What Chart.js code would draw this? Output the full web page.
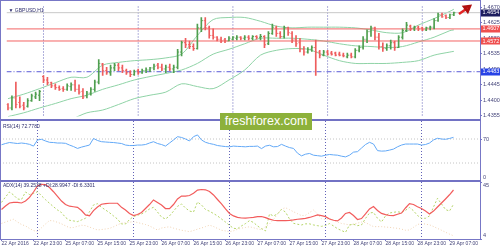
<!DOCTYPE html>
<html>
<head>
<meta charset="utf-8">
<title>GBPUSD H1</title>
<script src="https://cdn.jsdelivr.net/npm/chart.js@4.4.1/dist/chart.umd.min.js"></script>
<style>
  html, body { margin: 0; padding: 0; background: #fff; }
  #wrap { position: relative; width: 500px; height: 250px; overflow: hidden; background: #fff; }
  #wrap canvas { position: absolute; left: 0; }
  #frame { position: absolute; left: 0; top: 0; width: 481px; height: 240px; box-sizing: border-box; border: 1px solid #7777c6; pointer-events: none; }
  .sep { position: absolute; left: 0; width: 481px; height: 2px; background: #7272c4; }
  #brand { position: absolute; left: 220px; top: 113px; width: 92px; height: 17px; background: #8db13b; color: #fff;
           font: 12.5px/17px 'Liberation Sans', Arial, sans-serif; text-align: center; }
</style>
</head>
<body>
<div id="wrap">
  <canvas id="main" width="500" height="123" style="top:0;width:500px;height:123px"></canvas>
  <canvas id="rsi" width="500" height="60" style="top:121px;width:500px;height:60px"></canvas>
  <canvas id="adx" width="500" height="68" style="top:182px;width:500px;height:68px"></canvas>
  <div id="frame"></div>
  <div class="sep" style="top:119px"></div>
  <div class="sep" style="top:180px"></div>
  <div id="brand">freshforex.com</div>
</div>
<script>
// GBPUSD H1 bars, 22 Apr 14:00 .. 29 Apr 08:00
const opens = [
  1.4388, 1.4378, 1.4407, 1.4394, 1.4386, 1.4383, 1.4399, 1.4410, 1.4415, 1.4469,
  1.4459, 1.4451, 1.4442, 1.4437, 1.4434, 1.4432, 1.4440, 1.4445, 1.4432, 1.4426,
  1.4413, 1.4421, 1.4432, 1.4453, 1.4505, 1.4486, 1.4480, 1.4494, 1.4502, 1.4494,
  1.4486, 1.4480, 1.4475, 1.4486, 1.4480, 1.4486, 1.4488, 1.4494, 1.4502, 1.4496,
  1.4491, 1.4496, 1.4491, 1.4496, 1.4540, 1.4567, 1.4561, 1.4556, 1.4550, 1.4610,
  1.4631, 1.4610, 1.4588, 1.4583, 1.4577, 1.4575, 1.4572, 1.4577, 1.4580, 1.4583,
  1.4580, 1.4583, 1.4580, 1.4585, 1.4583, 1.4585, 1.4564, 1.4594, 1.4610, 1.4594,
  1.4585, 1.4610, 1.4594, 1.4577, 1.4567, 1.4548, 1.4540, 1.4548, 1.4553, 1.4540,
  1.4531, 1.4540, 1.4537, 1.4537, 1.4534, 1.4531, 1.4526, 1.4531, 1.4526, 1.4545,
  1.4553, 1.4577, 1.4599, 1.4610, 1.4583, 1.4556, 1.4550, 1.4558, 1.4567, 1.4553,
  1.4583, 1.4602, 1.4615, 1.4607, 1.4612, 1.4610, 1.4604, 1.4610, 1.4612, 1.4631,
  1.4648, 1.4645, 1.4640, 1.4648
];
const highs = [
  1.4391, 1.4413, 1.4453, 1.4410, 1.4394, 1.4405, 1.4418, 1.4424, 1.4429, 1.4472,
  1.4467, 1.4453, 1.4448, 1.4442, 1.4440, 1.4448, 1.4451, 1.4459, 1.4445, 1.4434,
  1.4426, 1.4437, 1.4459, 1.4518, 1.4507, 1.4496, 1.4502, 1.4507, 1.4507, 1.4502,
  1.4491, 1.4486, 1.4488, 1.4491, 1.4491, 1.4494, 1.4496, 1.4505, 1.4507, 1.4505,
  1.4502, 1.4505, 1.4502, 1.4548, 1.4572, 1.4580, 1.4572, 1.4564, 1.4621, 1.4640,
  1.4640, 1.4615, 1.4607, 1.4585, 1.4583, 1.4580, 1.4585, 1.4585, 1.4588, 1.4585,
  1.4588, 1.4588, 1.4588, 1.4588, 1.4591, 1.4588, 1.4599, 1.4621, 1.4615, 1.4599,
  1.4615, 1.4612, 1.4599, 1.4588, 1.4580, 1.4556, 1.4553, 1.4558, 1.4575, 1.4545,
  1.4545, 1.4545, 1.4542, 1.4540, 1.4540, 1.4537, 1.4537, 1.4537, 1.4550, 1.4558,
  1.4585, 1.4604, 1.4615, 1.4612, 1.4594, 1.4567, 1.4564, 1.4575, 1.4572, 1.4588,
  1.4607, 1.4626, 1.4618, 1.4615, 1.4615, 1.4612, 1.4612, 1.4615, 1.4637, 1.4653,
  1.4653, 1.4648, 1.4650, 1.4656
];
const lows = [
  1.4372, 1.4372, 1.4378, 1.4378, 1.4372, 1.4380, 1.4397, 1.4405, 1.4399, 1.4451,
  1.4445, 1.4437, 1.4432, 1.4429, 1.4426, 1.4429, 1.4429, 1.4426, 1.4418, 1.4405,
  1.4407, 1.4415, 1.4426, 1.4448, 1.4472, 1.4475, 1.4472, 1.4486, 1.4486, 1.4480,
  1.4475, 1.4469, 1.4472, 1.4475, 1.4478, 1.4480, 1.4483, 1.4488, 1.4491, 1.4486,
  1.4480, 1.4486, 1.4480, 1.4491, 1.4529, 1.4553, 1.4550, 1.4545, 1.4548, 1.4599,
  1.4604, 1.4580, 1.4577, 1.4572, 1.4567, 1.4567, 1.4572, 1.4575, 1.4575, 1.4575,
  1.4575, 1.4575, 1.4575, 1.4577, 1.4575, 1.4553, 1.4561, 1.4591, 1.4585, 1.4580,
  1.4580, 1.4588, 1.4567, 1.4556, 1.4540, 1.4531, 1.4537, 1.4542, 1.4472, 1.4523,
  1.4529, 1.4531, 1.4531, 1.4529, 1.4529, 1.4526, 1.4523, 1.4523, 1.4523, 1.4540,
  1.4548, 1.4567, 1.4585, 1.4575, 1.4548, 1.4542, 1.4545, 1.4548, 1.4545, 1.4553,
  1.4577, 1.4599, 1.4602, 1.4602, 1.4602, 1.4602, 1.4602, 1.4604, 1.4607, 1.4629,
  1.4640, 1.4637, 1.4637, 1.4645
];
const closes = [
  1.4378, 1.4407, 1.4388, 1.4383, 1.4378, 1.4399, 1.4413, 1.4418, 1.4426, 1.4459,
  1.4451, 1.4442, 1.4437, 1.4432, 1.4432, 1.4442, 1.4445, 1.4432, 1.4424, 1.4410,
  1.4421, 1.4432, 1.4453, 1.4507, 1.4486, 1.4480, 1.4494, 1.4502, 1.4494, 1.4486,
  1.4480, 1.4475, 1.4483, 1.4480, 1.4486, 1.4488, 1.4494, 1.4499, 1.4496, 1.4491,
  1.4496, 1.4491, 1.4496, 1.4540, 1.4567, 1.4561, 1.4556, 1.4550, 1.4610, 1.4631,
  1.4610, 1.4588, 1.4583, 1.4577, 1.4572, 1.4572, 1.4580, 1.4583, 1.4583, 1.4580,
  1.4583, 1.4580, 1.4585, 1.4583, 1.4585, 1.4561, 1.4594, 1.4612, 1.4594, 1.4585,
  1.4610, 1.4596, 1.4575, 1.4564, 1.4548, 1.4540, 1.4548, 1.4553, 1.4540, 1.4531,
  1.4540, 1.4534, 1.4534, 1.4531, 1.4531, 1.4529, 1.4531, 1.4526, 1.4545, 1.4553,
  1.4577, 1.4599, 1.4610, 1.4583, 1.4556, 1.4550, 1.4558, 1.4567, 1.4553, 1.4583,
  1.4602, 1.4618, 1.4607, 1.4612, 1.4607, 1.4604, 1.4610, 1.4612, 1.4631, 1.4648,
  1.4642, 1.4640, 1.4648, 1.4654
];

// Bollinger bands, read every 4th bar
const bbIdx = [0, 4, 8, 12, 16, 20, 24, 28, 32, 36, 40, 44, 48, 52, 56, 60, 64, 68, 72, 76,
               80, 84, 88, 92, 96, 100, 104, 108, 112, 113];
const bbUpper = [1.4405, 1.4418, 1.4434, 1.4451, 1.4467, 1.4467, 1.4502, 1.4510, 1.4515, 1.4518,
                 1.4523, 1.4534, 1.4588, 1.4634, 1.4640, 1.4640, 1.4629, 1.4615, 1.4610, 1.4612,
                 1.4612, 1.4612, 1.4610, 1.4604, 1.4596, 1.4596, 1.4618, 1.4637, 1.4658, 1.4664];
const bbMiddle = [1.4353, 1.4364, 1.4378, 1.4391, 1.4405, 1.4415, 1.4432, 1.4445, 1.4459, 1.4469,
                  1.4478, 1.4488, 1.4507, 1.4534, 1.4548, 1.4564, 1.4580, 1.4580, 1.4580, 1.4577,
                  1.4572, 1.4564, 1.4558, 1.4556, 1.4553, 1.4556, 1.4569, 1.4583, 1.4602, 1.4604];
const bbLower = [1.4302, 1.4310, 1.4321, 1.4332, 1.4345, 1.4364, 1.4372, 1.4388, 1.4405, 1.4415,
                 1.4424, 1.4448, 1.4440, 1.4434, 1.4459, 1.4488, 1.4531, 1.4545, 1.4550, 1.4548,
                 1.4531, 1.4515, 1.4507, 1.4507, 1.4507, 1.4510, 1.4515, 1.4531, 1.4540, 1.4542];

const rsi = [
  60.4, 62.5, 64.1, 63.3, 62.5, 63.3, 62.5, 61.1, 58.2, 68.4,
  69.5, 66.7, 64.5, 64.1, 63.3, 63.3, 62.8, 59.9, 57.4, 54.3,
  56.5, 58.2, 59.9, 70.9, 67.5, 65.5, 65.0, 64.5, 64.1, 63.3,
  62.5, 59.9, 59.1, 59.1, 59.9, 59.9, 60.8, 63.3, 65.5, 62.5,
  60.8, 58.2, 63.3, 68.4, 73.9, 72.6, 70.0, 66.7, 73.9, 76.8,
  68.4, 64.5, 62.5, 61.1, 59.1, 58.2, 57.4, 57.0, 58.2, 57.7,
  57.4, 57.0, 57.7, 57.7, 58.2, 54.0, 58.2, 59.6, 57.0, 57.4,
  61.1, 58.2, 55.7, 54.3, 46.4, 41.9, 44.7, 45.9, 43.0, 42.2,
  41.4, 43.0, 44.2, 43.5, 43.0, 41.4, 40.2, 43.0, 48.1, 48.9,
  54.9, 60.8, 64.5, 61.6, 50.6, 49.8, 50.1, 51.5, 53.2, 57.0,
  59.9, 61.6, 61.6, 61.6, 61.6, 59.9, 60.8, 63.3, 68.4, 71.2,
  70.0, 69.5, 70.9, 72.78
];

const adx = [
  25.2, 27.7, 29.9, 30.4, 30.3, 29.9, 31.3, 33.9, 37.8, 42.1,
  43.3, 43.2, 41.0, 38.0, 34.6, 31.3, 28.8, 27.6, 27.2, 26.8,
  24.5, 21.3, 20.6, 24.4, 27.0, 29.0, 29.5, 29.7, 29.7, 29.7,
  26.8, 24.9, 22.4, 20.8, 21.6, 23.1, 25.9, 28.8, 32.1, 30.3,
  28.5, 25.9, 25.9, 28.8, 32.8, 34.9, 34.9, 35.3, 36.9, 39.2,
  39.6, 39.4, 38.2, 35.7, 32.4, 29.2, 25.6, 22.4, 20.6, 19.6,
  19.1, 19.0, 19.3, 19.6, 20.1, 20.2, 19.4, 18.3, 17.5, 17.2,
  17.2, 17.2, 17.4, 17.7, 18.2, 18.5, 18.8, 19.5, 20.4, 21.3,
  20.8, 20.1, 18.4, 17.5, 17.0, 19.1, 22.4, 23.1, 20.9, 18.0,
  18.7, 22.0, 25.6, 27.4, 24.5, 22.4, 21.5, 20.9, 20.8, 21.8,
  22.7, 26.3, 29.5, 28.8, 27.2, 25.9, 24.1, 22.0, 24.1, 27.0,
  29.9, 32.8, 35.8, 39.25
];
const plusDI = [
  30.3, 34.2, 37.8, 35.7, 32.8, 32.4, 37.8, 36.0, 36.7, 38.0,
  35.1, 32.3, 29.7, 27.2, 24.9, 23.0, 19.5, 17.5, 17.0, 16.5,
  17.7, 18.9, 23.6, 28.5, 29.4, 26.8, 24.9, 22.9, 20.6, 18.3,
  14.8, 14.8, 18.0, 20.1, 21.1, 22.0, 23.6, 25.6, 26.8, 23.4,
  19.8, 18.4, 20.6, 24.0, 27.5, 29.2, 26.3, 24.1, 23.4, 30.6,
  28.5, 25.2, 24.0, 22.3, 20.6, 18.4, 16.2, 13.8, 11.7, 11.4,
  13.4, 15.1, 17.2, 15.9, 13.4, 11.4, 9.8, 22.0, 20.6, 22.0,
  25.2, 23.4, 18.4, 15.3, 14.6, 14.1, 14.9, 14.9, 14.1, 13.6,
  13.1, 13.7, 15.1, 13.4, 11.4, 10.1, 8.8, 14.1, 14.6, 13.6,
  14.1, 18.8, 22.7, 23.1, 18.9, 16.3, 20.6, 22.7, 23.2, 23.6,
  23.1, 24.6, 26.7, 24.3, 20.9, 18.9, 18.9, 20.6, 27.0, 33.3,
  29.2, 25.2, 24.1, 28.99
];
const minusDI = [
  15.2, 16.2, 17.3, 18.2, 16.2, 14.4, 13.4, 11.6, 10.1, 9.3,
  12.1, 14.8, 17.3, 17.0, 16.0, 14.9, 13.5, 12.1, 12.3, 13.1,
  13.9, 13.6, 12.6, 11.5, 10.5, 10.8, 11.2, 11.6, 12.8, 14.2,
  15.4, 15.7, 16.1, 16.5, 15.9, 15.1, 14.4, 13.4, 11.9, 10.5,
  11.9, 12.4, 12.8, 11.8, 11.0, 10.3, 9.8, 9.3, 10.1, 11.1,
  11.9, 12.9, 13.9, 13.0, 11.6, 10.3, 9.8, 9.3, 9.9, 11.0,
  11.8, 12.3, 12.8, 12.1, 11.2, 10.8, 12.9, 14.8, 18.0, 22.0,
  25.6, 26.5, 25.1, 23.6, 22.2, 20.8, 21.1, 23.0, 24.9, 22.0,
  18.5, 18.0, 18.8, 17.7, 16.2, 15.2, 14.7, 14.1, 14.7, 15.4,
  16.2, 15.8, 14.3, 12.9, 12.9, 12.9, 12.6, 12.4, 12.0, 11.7,
  11.1, 10.3, 10.5, 12.4, 14.4, 15.2, 14.7, 14.2, 13.0, 11.6,
  10.3, 8.9, 7.5, 6.33
];

const bidPrice = 1.4654;
const redLevels = [1.4607, 1.4572];
const blueLevel = 1.4483;
const arrowX = [114.3, 116.4];
const arrowY = [1.4650, 1.4667];

const priceTicks = [1.4355, 1.4400, 1.4445, 1.4490, 1.4535, 1.4580, 1.4625, 1.4670];
const rsiTicks = [0, 30, 70, 100];
const rsiLevels = [70, 30];
const adxTicks = [4, 45];

const timeIdx = [0, 8, 16, 24, 32, 40, 48, 56, 64, 72, 80, 88, 96, 104, 112];
const timeLabels = ['22 Apr 2016', '22 Apr 23:00', '25 Apr 07:00', '25 Apr 15:00', '25 Apr 23:00',
  '26 Apr 07:00', '26 Apr 15:00', '26 Apr 23:00', '27 Apr 07:00', '27 Apr 15:00',
  '27 Apr 23:00', '28 Apr 07:00', '28 Apr 15:00', '28 Apr 23:00', '29 Apr 07:00'];
const daySeparators = [9, 33, 57, 81, 105];

// ---- styling ----
const FONT = "'Liberation Sans Narrow', 'Liberation Sans', Arial, sans-serif";
const TXT = '#45457a';
const FRAME = '#7777c6';
const UP = '#4f9f4f', DOWN = '#ee5d5d';
const X_MIN = -0.375, X_MAX = 119.625;   // 4px per bar, 480px plot

Chart.defaults.font.family = FONT;
Chart.defaults.font.size = 5.5;
Chart.defaults.color = TXT;

const xs = closes.map((_, i) => i);
const pts = (idx, vals) => idx.map((x, k) => ({ x: x, y: vals[k] }));
const barColor = i => (closes[i] >= opens[i] ? UP : DOWN);
const flat = (v, color, dash, order) => ({
  type: 'line', data: [{ x: X_MIN, y: v }, { x: X_MAX, y: v }],
  borderColor: color, borderWidth: 1, borderDash: dash || [], pointRadius: 0, order: order || 4
});

// dotted day separators
const daySep = {
  id: 'daySep',
  beforeDatasetsDraw(chart) {
    const { ctx, chartArea: a, scales: { x } } = chart;
    ctx.save();
    ctx.strokeStyle = '#6262b8';
    ctx.lineWidth = 1;
    ctx.setLineDash([1, 2]);
    daySeparators.forEach(i => {
      const px = x.getPixelForValue(i);
      ctx.beginPath();
      ctx.moveTo(px, a.top);
      ctx.lineTo(px, a.bottom);
      ctx.stroke();
    });
    ctx.restore();
  }
};

// indicator name in the top left of each window
const panelText = {
  id: 'panelText',
  afterDraw(chart, args, opts) {
    if (!opts.text) return;
    const { ctx, chartArea: a } = chart;
    ctx.save();
    ctx.font = '5px ' + FONT;
    ctx.fillStyle = '#2d2d6c';
    ctx.textBaseline = 'top';
    ctx.fillText(opts.text, a.left + opts.dx, a.top + opts.dy);
    ctx.restore();
  }
};

// coloured price tags on the right scale
const priceBoxes = {
  id: 'priceBoxes',
  afterDraw(chart, args, opts) {
    if (!opts.items) return;
    const { ctx, chartArea: a, scales: { y } } = chart;
    ctx.save();
    ctx.font = '5.5px ' + FONT;
    ctx.textBaseline = 'middle';
    opts.items.forEach(it => {
      const py = y.getPixelForValue(it.v);
      ctx.fillStyle = it.bg;
      ctx.fillRect(a.right + 1, Math.round(py) - 3.5, 19, 7);
      ctx.fillStyle = '#fff';
      ctx.fillText(it.v.toFixed(4), a.right + 2.5, py);
    });
    ctx.restore();
  }
};

const hiddenX = { type: 'linear', min: X_MIN, max: X_MAX, offset: false, display: false };
const fitRight = s => { s.width = 20; s.paddingTop = 0; s.paddingBottom = 0; };
const rightGrid = { drawOnChartArea: false, tickLength: 2, color: FRAME };
const noPlugins = { legend: { display: false }, tooltip: { enabled: false } };

// ---- main price window ----
new Chart(document.getElementById('main'), {
  type: 'bar',
  data: {
    datasets: [
      { type: 'line', data: pts(bbIdx, bbUpper), borderColor: '#8fd3a6', borderWidth: 1, pointRadius: 0, tension: 0.3, order: 5 },
      { type: 'line', data: pts(bbIdx, bbMiddle), borderColor: '#8fd3a6', borderWidth: 1, pointRadius: 0, tension: 0.3, order: 5 },
      { type: 'line', data: pts(bbIdx, bbLower), borderColor: '#8fd3a6', borderWidth: 1, pointRadius: 0, tension: 0.3, order: 5 },
      flat(bidPrice, '#c8c8c8'),
      flat(redLevels[0], '#f36464'),
      flat(redLevels[1], '#f36464'),
      flat(blueLevel, '#5b5bd6', [5, 2, 1, 2]),
      {
        type: 'bar',
        data: xs.map(i => ({ x: i, y: [lows[i], highs[i]] })),
        backgroundColor: c => barColor(c.dataIndex),
        barThickness: 1, borderWidth: 0, order: 2
      },
      {
        type: 'line', showLine: false,
        data: xs.map(i => ({ x: i - 0.25, y: opens[i] })),
        pointStyle: 'line', pointRadius: 0.5, pointBorderWidth: 1,
        pointBorderColor: c => barColor(c.dataIndex), order: 1
      },
      {
        type: 'line', showLine: false,
        data: xs.map(i => ({ x: i + 0.25, y: closes[i] })),
        pointStyle: 'line', pointRadius: 0.5, pointBorderWidth: 1,
        pointBorderColor: c => barColor(c.dataIndex), order: 1
      },
      {
        type: 'line', data: pts(arrowX, arrowY), borderColor: '#e32626', borderWidth: 2.5,
        pointStyle: 'triangle', pointRadius: [0, 3.5], pointRotation: 53,
        pointBackgroundColor: '#e32626', pointBorderColor: '#b01010', clip: false, order: 0
      }
    ]
  },
  options: {
    responsive: false, animation: false, events: [],
    layout: { padding: { top: 1, bottom: 4, left: 0, right: 0 } },
    plugins: Object.assign({}, noPlugins, {
      panelText: { text: '\u25BC GBPUSD,H1', dx: 2, dy: 2 },
      priceBoxes: { items: [
        { v: bidPrice, bg: '#1d1d5e' },
        { v: redLevels[0], bg: '#ef4f4f' },
        { v: redLevels[1], bg: '#ef4f4f' },
        { v: blueLevel, bg: '#2742e6' }
      ] }
    }),
    scales: {
      x: hiddenX,
      y: {
        position: 'right', min: 1.43533, max: 1.46719,
        afterFit: fitRight,
        afterBuildTicks: s => { s.ticks = priceTicks.map(v => ({ value: v })); },
        ticks: { padding: 1, callback: v => v.toFixed(4) },
        grid: rightGrid, border: { display: false }
      }
    }
  },
  plugins: [daySep, panelText, priceBoxes]
});

// ---- RSI window ----
new Chart(document.getElementById('rsi'), {
  type: 'line',
  data: {
    datasets: [
      flat(rsiLevels[0], '#c4c4c4', [1, 2]),
      flat(rsiLevels[1], '#c4c4c4', [1, 2]),
      { data: pts(xs, rsi), borderColor: '#63a9f7', borderWidth: 1, pointRadius: 0, order: 1 }
    ]
  },
  options: {
    responsive: false, animation: false, events: [],
    layout: { padding: 0 },
    plugins: Object.assign({}, noPlugins, { panelText: { text: 'RSI(14) 72.7780', dx: 3, dy: 3 } }),
    scales: {
      x: hiddenX,
      y: {
        position: 'right', min: 0, max: 100,
        afterFit: fitRight,
        afterBuildTicks: s => { s.ticks = rsiTicks.map(v => ({ value: v })); },
        ticks: { padding: 1, callback: v => (v === 100 ? ['', '100'] : v === 0 ? ['0', ''] : String(v)) },
        grid: rightGrid, border: { display: false }
      }
    }
  },
  plugins: [daySep, panelText]
});

// ---- ADX window with time axis ----
new Chart(document.getElementById('adx'), {
  type: 'line',
  data: {
    datasets: [
      { data: pts(xs, minusDI), borderColor: '#f0d2b2', borderWidth: 1, borderDash: [1, 2], pointRadius: 0, order: 3 },
      { data: pts(xs, plusDI), borderColor: '#b4d467', borderWidth: 1, borderDash: [2, 2], pointRadius: 0, order: 2 },
      { data: pts(xs, adx), borderColor: '#f25c5c', borderWidth: 1.2, pointRadius: 0, order: 1 }
    ]
  },
  options: {
    responsive: false, animation: false, events: [],
    layout: { padding: 0 },
    plugins: Object.assign({}, noPlugins, {
      panelText: { text: 'ADX(14) 39.2538 +DI:28.9947 -DI:6.3301', dx: 3, dy: 1.5 }
    }),
    scales: {
      x: {
        type: 'linear', min: X_MIN, max: X_MAX, offset: false, position: 'bottom',
        afterBuildTicks: s => { s.ticks = timeIdx.map(v => ({ value: v })); },
        afterFit: s => { s.height = 11; s.paddingLeft = 0; s.paddingRight = 0; },
        ticks: {
          autoSkip: false, maxRotation: 0, minRotation: 0, align: 'start', padding: 0,
          font: { size: 5 }, callback: v => timeLabels[timeIdx.indexOf(v)]
        },
        grid: { drawOnChartArea: false, tickLength: 2, color: FRAME },
        border: { display: false }
      },
      y: {
        position: 'right', min: 4, max: 45,
        afterFit: fitRight,
        afterBuildTicks: s => { s.ticks = adxTicks.map(v => ({ value: v })); },
        ticks: { padding: 1, callback: v => (v === 45 ? ['', '45'] : ['4', '']) },
        grid: rightGrid, border: { display: false }
      }
    }
  },
  plugins: [daySep, panelText]
});
</script>
</body>
</html>
